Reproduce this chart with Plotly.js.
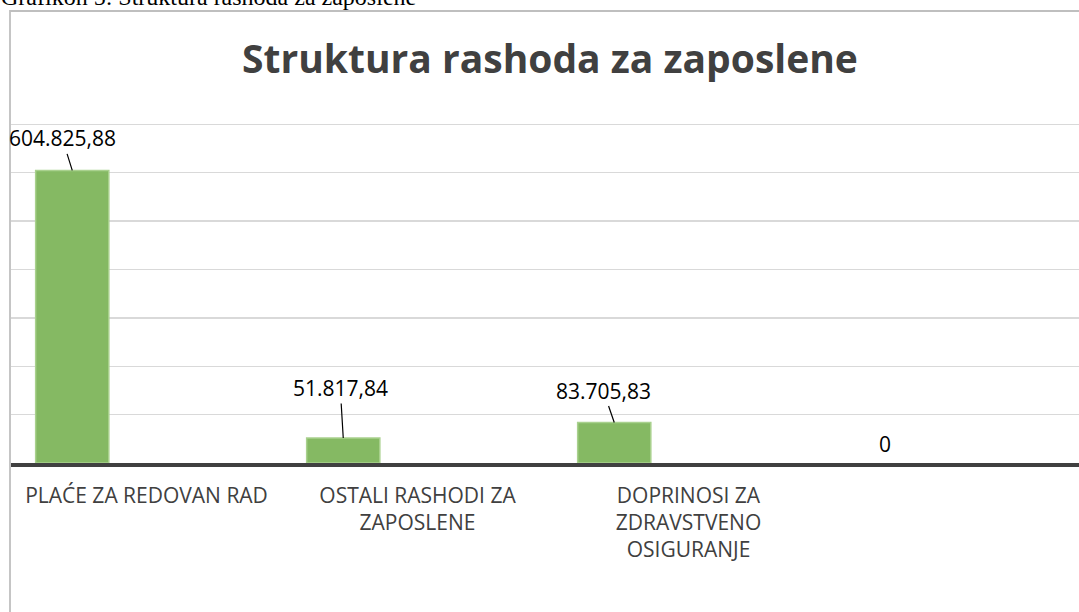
<!DOCTYPE html>
<html>
<head>
<meta charset="utf-8">
<script src="https://cdn.plot.ly/plotly-3.0.1.min.js"></script>
<style>
html,body{margin:0;padding:0;background:#fff;overflow:hidden;}
#chart{width:1079px;height:612px;}
</style>
</head>
<body>
<div id="chart"></div>
<script>
// ---- data ----
const categories = ["PLAĆE ZA REDOVAN RAD", "OSTALI RASHODI ZA ZAPOSLENE", "DOPRINOSI ZA ZDRAVSTVENO OSIGURANJE", ""];
const tickLabels = ["PLAĆE ZA REDOVAN RAD", "OSTALI RASHODI ZA<br>ZAPOSLENE", "DOPRINOSI ZA<br>ZDRAVSTVENO<br>OSIGURANJE", ""];
const values = [604825.88, 51817.84, 83705.83, 0];
const yGridValues = [0, 100000, 200000, 300000, 400000, 500000, 600000, 700000];
const chartTitle = "Struktura rashoda za zaposlene";
const captionText = "Grafikon 5: Struktura rashoda za zaposlene";

// label offsets (pixels) for the leader-line labels
const labelAx = [-10, -3, -11, 0];
const labelAy = [-32, -50, -32, -19];

// ---- helpers ----
function fmtHR(v){
  if (v === 0) return "0";
  const parts = v.toFixed(2).split(".");
  const intPart = parts[0].replace(/\B(?=(\d{3})+(?!\d))/g, ".");
  return intPart + "," + parts[1];
}

// geometry (style)
const W = 1079, H = 612;
const ML = 11, MR = 0, MT = 121, MB = 149;
const catPx = 271;
const plotW = W - ML - MR;
const BAR_OFFSET = -0.409, BAR_WIDTH = 0.27;
const idx = categories.map((c,i)=>i);

const trace = {
  type: "bar",
  x: idx,
  y: values,
  offset: BAR_OFFSET,
  width: BAR_WIDTH,
  marker: {color: "#85B963", line: {color: "#A9D18E", width: values.map(v => v > 0 ? 1.5 : 0)}},
  hoverinfo: "skip"
};

const annotations = values.map((v,i)=>{
  const a = {
    x: i + BAR_OFFSET + BAR_WIDTH/2, y: v, xref: "x", yref: "y",
    text: fmtHR(v),
    font: {family: "Open Sans", size: 21, color: "#000000"},
    showarrow: v > 0,
    arrowhead: 0, arrowwidth: 1.2, arrowcolor: "#000000",
    ax: labelAx[i], ay: labelAy[i], standoff: 0, startstandoff: 0
  };
  if (!(v > 0)) { a.yshift = -labelAy[i]; a.yanchor = "middle"; a.xshift = labelAx[i]; }
  return a;
});

const pxX = p => (p - ML) / plotW;
const plotH = H - MT - MB;
const pxY = p => (H - MB - p) / plotH;

annotations.push({
  xref: "paper", yref: "paper", x: pxX(-1), y: pxY(-3),
  xanchor: "left", yanchor: "middle", showarrow: false,
  text: captionText,
  font: {family: "Liberation Serif", size: 24, color: "#000000"}
});

const layout = {
  width: W, height: H,
  margin: {l: ML, r: MR, t: MT, b: MB, pad: 0},
  paper_bgcolor: "#ffffff", plot_bgcolor: "#ffffff",
  showlegend: false,
  title: {
    text: chartTitle,
    font: {family: "Open Sans", size: 39, color: "#404040", weight: "bold"},
    xref: "container", yref: "container",
    x: 550 / W, xanchor: "center",
    y: 1 - 59.5 / H, yanchor: "middle"
  },
  xaxis: {
    type: "linear",
    range: [-0.5, -0.5 + plotW / catPx],
    tickmode: "array", tickvals: idx, ticktext: tickLabels,
    showgrid: false, zeroline: false,
    showline: true, linecolor: "#404040", linewidth: 3.5,
    ticks: "", ticklabelstandoff: 11,
    tickfont: {family: "Open Sans", size: 21, color: "#404040"},
    automargin: false, fixedrange: true
  },
  yaxis: {
    range: [0, 707000],
    tickmode: "array", tickvals: yGridValues,
    showgrid: true, gridcolor: "#D9D9D9", gridwidth: 1.3,
    zeroline: false, showticklabels: false, showline: false, ticks: "",
    automargin: false, fixedrange: true
  },
  shapes: [{
    type: "rect", xref: "paper", yref: "paper",
    x0: pxX(10), x1: pxX(1110), y0: pxY(640), y1: pxY(11),
    line: {color: "#BFBFBF", width: 1.8}, fillcolor: "rgba(0,0,0,0)", layer: "below"
  }],
  annotations: annotations
};

Plotly.newPlot("chart", [trace], layout, {displayModeBar: false, staticPlot: true});
</script>
</body>
</html>
